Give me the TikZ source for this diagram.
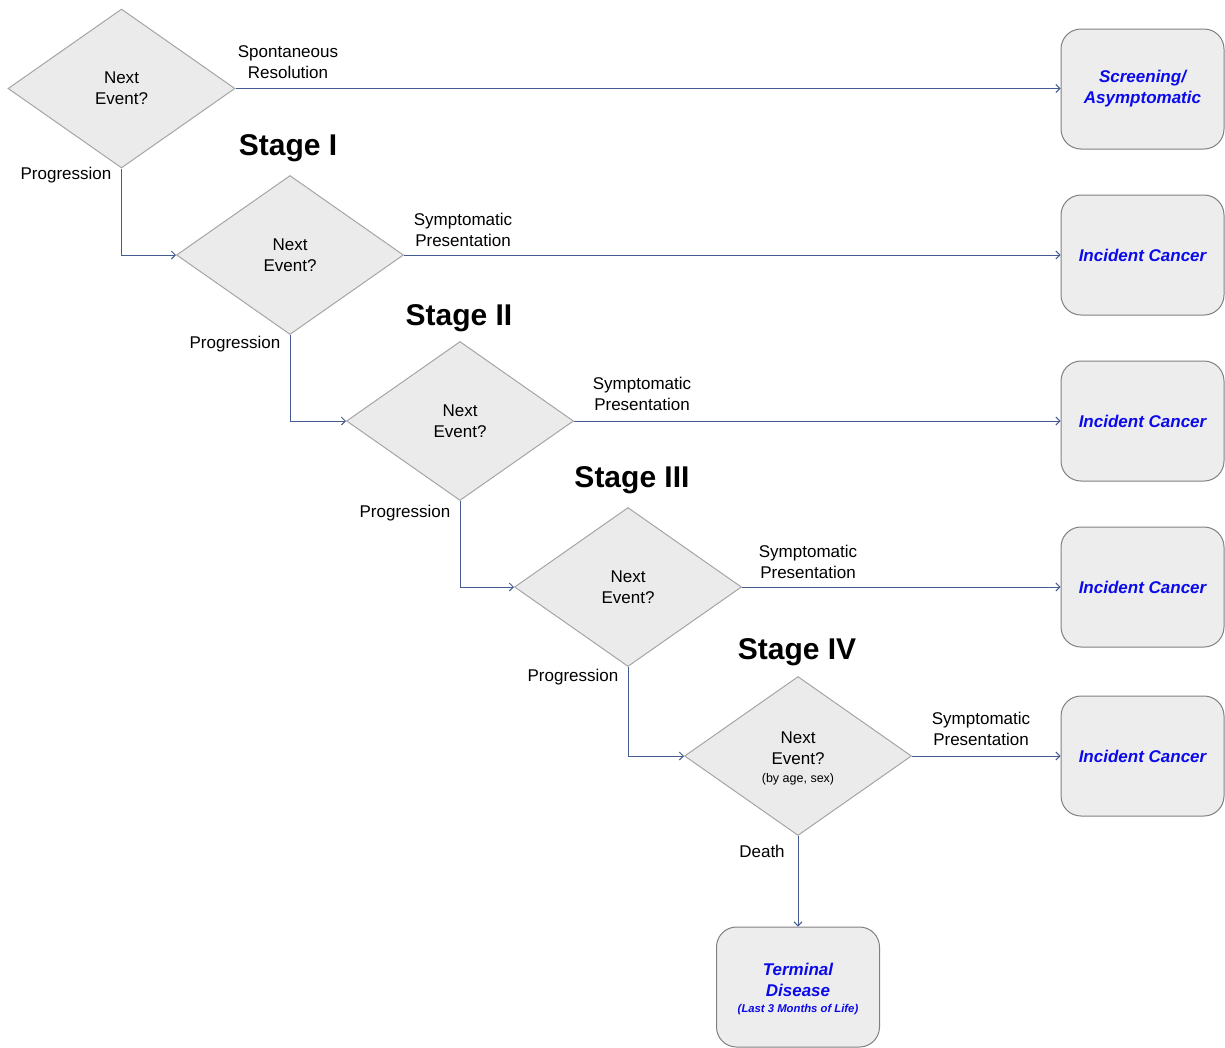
\documentclass[tikz,border=0pt]{standalone}
\usepackage{fontspec}
\setmainfont{Liberation Sans}
\usetikzlibrary{shapes.geometric,arrows.meta}
\definecolor{linkblue}{RGB}{68,92,145}
\definecolor{boxtext}{RGB}{10,10,235}
\definecolor{dfill}{RGB}{235,235,235}
\definecolor{dline}{RGB}{165,165,165}
\definecolor{bfill}{RGB}{237,237,237}
\definecolor{bline}{RGB}{128,128,128}
\tikzset{
  decision/.style={diamond, draw=dline, fill=dfill, line width=1pt, inner sep=0pt,
    minimum width=227pt, minimum height=159pt, align=center,
    font=\fontsize{17}{21}\selectfont},
  outcome/.style={rectangle, rounded corners=20pt, draw=bline, fill=bfill, line width=1pt,
    minimum width=163pt, minimum height=120pt, align=center, text=boxtext,
    font=\fontsize{17}{21}\selectfont\bfseries\itshape},
  lbl/.style={align=center, font=\fontsize{17}{21}\selectfont, inner sep=0pt},
  stagelbl/.style={font=\fontsize{30}{34}\selectfont\bfseries, inner sep=0pt},
  link/.style={draw=linkblue, line width=1pt, -{Straight Barb[length=4pt,width=8pt]}}
}
\begin{document}
\begin{tikzpicture}[x=1pt,y=-1pt]
\useasboundingbox (0,0) rectangle (1225,1047);

% decision diamonds
\node[decision] (d0) at (121.5,88.5) {Next\\Event?};
\node[decision] (d1) at (290,255) {Next\\Event?};
\node[decision] (d2) at (460,421) {Next\\Event?};
\node[decision] (d3) at (628,587) {Next\\Event?};
\node[decision] (d4) at (798,756) {};
\node[align=center, font=\fontsize{17}{21}\selectfont, inner sep=0pt] (d4t) at (798,758)
  {Next\\Event?\\[-3pt]{\fontsize{12.5}{14}\selectfont(by age, sex)}};

% outcome boxes
\node[outcome] (b0) at (1142.5,89) {Screening/\\Asymptomatic};
\node[outcome] (b1) at (1142.5,255) {Incident Cancer};
\node[outcome] (b2) at (1142.5,421) {Incident Cancer};
\node[outcome] (b3) at (1142.5,587) {Incident Cancer};
\node[outcome] (b4) at (1142.5,756) {Incident Cancer};
\node[outcome] (term) at (798,987) {};
\node[align=center, text=boxtext, inner sep=0pt,
  font=\fontsize{17}{21}\selectfont\bfseries\itshape] (termt) at (798,989)
  {Terminal\\Disease\\[-5pt]{\fontsize{11.3}{13}\selectfont(Last 3 Months of Life)}};

% stage titles
\node[stagelbl] (s1) at (288,148) {Stage I};
\node[stagelbl] (s2) at (459,318) {Stage II};
\node[stagelbl] (s3) at (632,480) {Stage III};
\node[stagelbl] (s4) at (797,652) {Stage IV};

% horizontal exits
\draw[link] (d0.east) -- (b0.west |- d0.east);
\draw[link] (d1.east) -- (b1.west);
\draw[link] (d2.east) -- (b2.west);
\draw[link] (d3.east) -- (b3.west);
\draw[link] (d4.east) -- (b4.west);

% progression steps
\draw[link] (d0.south) |- (d1.west);
\draw[link] (d1.south) |- (d2.west);
\draw[link] (d2.south) |- (d3.west);
\draw[link] (d3.south) |- (d4.west);
\draw[link] (d4.south) -- (term.north);

% connector labels
\node[lbl] (l0) at (288,62) {Spontaneous\\Resolution};
\node[lbl] (l1) at (463,230) {Symptomatic\\Presentation};
\node[lbl] (l2) at (642,394) {Symptomatic\\Presentation};
\node[lbl] (l3) at (808,562) {Symptomatic\\Presentation};
\node[lbl] (l4) at (981,729) {Symptomatic\\Presentation};
\node[lbl] (p0) at (66,175) {Progression};
\node[lbl] (p1) at (235,344) {Progression};
\node[lbl] (p2) at (405,513) {Progression};
\node[lbl] (p3) at (573,677) {Progression};
\node[lbl] (dth) at (762,851) {Death};
\end{tikzpicture}
\end{document}
